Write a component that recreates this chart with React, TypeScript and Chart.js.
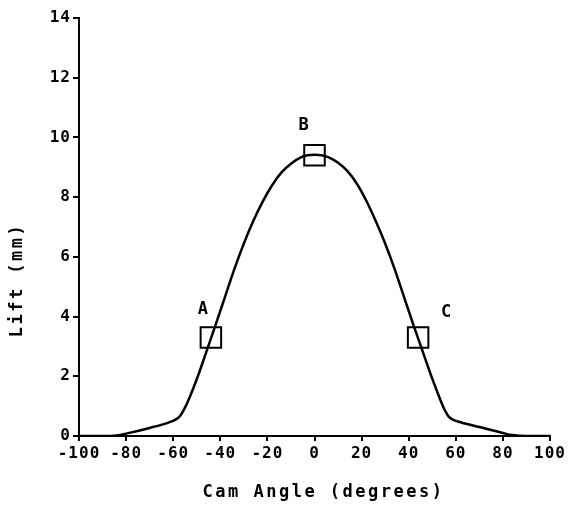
import React, { useEffect, useRef } from "react";
import { Chart, registerables } from "chart.js";

Chart.register(...registerables);

// Cam profile (degrees vs lift in mm)
const camAngle = [
  -100, -90, -84, -80, -70, -62, -59, -57, -55, -53, -50, -46, -42, -38, -34, -30, -26, -22, -18, -14, -10, -6, -3, 0,
  3, 6, 10, 14, 18, 22, 26, 30, 34, 38, 42, 46, 50, 53, 55, 57, 59, 62, 70, 80, 84, 90, 100,
];
const lift = [
  0, 0, 0.02, 0.08, 0.27, 0.45, 0.55, 0.68, 0.95, 1.3, 1.9, 2.8, 3.72, 4.66, 5.6, 6.45, 7.2, 7.85, 8.4, 8.83, 9.12, 9.32, 9.4, 9.42,
  9.4, 9.33, 9.15, 8.87, 8.45, 7.88, 7.2, 6.45, 5.6, 4.66, 3.72, 2.82, 1.92, 1.3, 0.92, 0.65, 0.54, 0.46, 0.3, 0.1, 0.03, 0, 0,
];

const markerLabels = ["A", "B", "C"];
const markerAngle = [-44, 0, 44];
const markerLift = [3.3, 9.4, 3.3];

const xTicks = [-100, -80, -60, -40, -20, 0, 20, 40, 60, 80, 100];
const yTicks = [0, 2, 4, 6, 8, 10, 12, 14];

const xTitle = "Cam Angle (degrees)";
const yTitle = "Lift (mm)";

const FONT = "'DejaVu Sans Mono', monospace";

export default function App() {
  const ref = useRef<HTMLCanvasElement | null>(null);

  useEffect(() => {
    if (!ref.current) return;

    const spacing = {
      id: "spacing",
      beforeUpdate(chart: any) {
        (chart.ctx as any).letterSpacing = "1px";
      },
      beforeLayout(chart: any) {
        (chart.ctx as any).letterSpacing = "1px";
      },
      beforeDraw(chart: any) {
        (chart.ctx as any).letterSpacing = "1px";
      },
    };

    const labelOffsets = [
      [-8, -28],
      [-11, -30],
      [28, -25],
    ];

    const annot = {
      id: "annot",
      afterDraw(chart: any) {
        const ctx = chart.ctx;
        const xs = chart.scales.x;
        const ys = chart.scales.y;
        const area = chart.chartArea;
        ctx.save();
        ctx.fillStyle = "#000";
        ctx.textAlign = "center";
        ctx.textBaseline = "middle";
        (ctx as any).letterSpacing = "0px";
        ctx.font = `bold 17px ${FONT}`;
        markerLabels.forEach((lab, i) => {
          const px = xs.getPixelForValue(markerAngle[i]) + labelOffsets[i][0];
          const py = ys.getPixelForValue(markerLift[i]) + labelOffsets[i][1];
          ctx.fillText(lab, px, py);
        });
        (ctx as any).letterSpacing = "2.5px";
        ctx.font = `bold 17px ${FONT}`;
        ctx.fillText(xTitle, (area.left + area.right) / 2 + 9, area.bottom + 57);
        ctx.translate(18, area.bottom - 156);
        ctx.rotate(-Math.PI / 2);
        ctx.fillText(yTitle, 0, 0);
        ctx.restore();
      },
    };

    const chart = new Chart(ref.current, {
      type: "line",
      data: {
        datasets: [
          {
            data: camAngle.map((a, i) => ({ x: a, y: lift[i] })),
            borderColor: "#000",
            borderWidth: 2.5,
            pointRadius: 0,
            cubicInterpolationMode: "monotone",
            fill: false,
          },
          {
            data: markerAngle.map((a, i) => ({ x: a, y: markerLift[i] })),
            showLine: false,
            pointStyle: "rect",
            pointRadius: 14.5,
            pointBorderWidth: 2,
            pointBorderColor: "#000",
            pointBackgroundColor: "rgba(0,0,0,0)",
            borderColor: "#000",
          },
        ],
      },
      options: {
        animation: false,
        responsive: true,
        maintainAspectRatio: false,
        layout: { padding: { left: 0, right: 28, top: 18, bottom: 0 } },
        plugins: {
          legend: { display: false },
          tooltip: { enabled: false },
        },
        scales: {
          x: {
            type: "linear",
            min: -100,
            max: 100,
            afterFit(scale: any) {
              scale.height = 72;
            },
            afterBuildTicks(scale: any) {
              scale.ticks = xTicks.map((v) => ({ value: v }));
            },
            border: { color: "#000", width: 2 },
            grid: { display: true, drawOnChartArea: false, drawTicks: true, tickLength: 5, color: "#000", lineWidth: 2 },
            ticks: {
              color: "#000",
              font: { family: FONT, size: 16, weight: "bold" },
              padding: 3,
              maxRotation: 0,
              autoSkip: false,
            },
          },
          y: {
            type: "linear",
            min: 0,
            max: 14,
            afterFit(scale: any) {
              scale.width = 79;
            },
            afterBuildTicks(scale: any) {
              scale.ticks = yTicks.map((v) => ({ value: v }));
            },
            border: { color: "#000", width: 2 },
            grid: { display: true, drawOnChartArea: false, drawTicks: true, tickLength: 6, color: "#000", lineWidth: 2 },
            ticks: {
              color: "#000",
              font: { family: FONT, size: 16, weight: "bold" },
              padding: 2,
              autoSkip: false,
            },
          },
        },
      },
      plugins: [spacing, annot],
    } as any);

    return () => chart.destroy();
  }, []);

  return (
    <div style={{ position: "fixed", left: 0, top: 0, width: 578, height: 508, background: "#fff" }}>
      <canvas ref={ref} />
    </div>
  );
}
